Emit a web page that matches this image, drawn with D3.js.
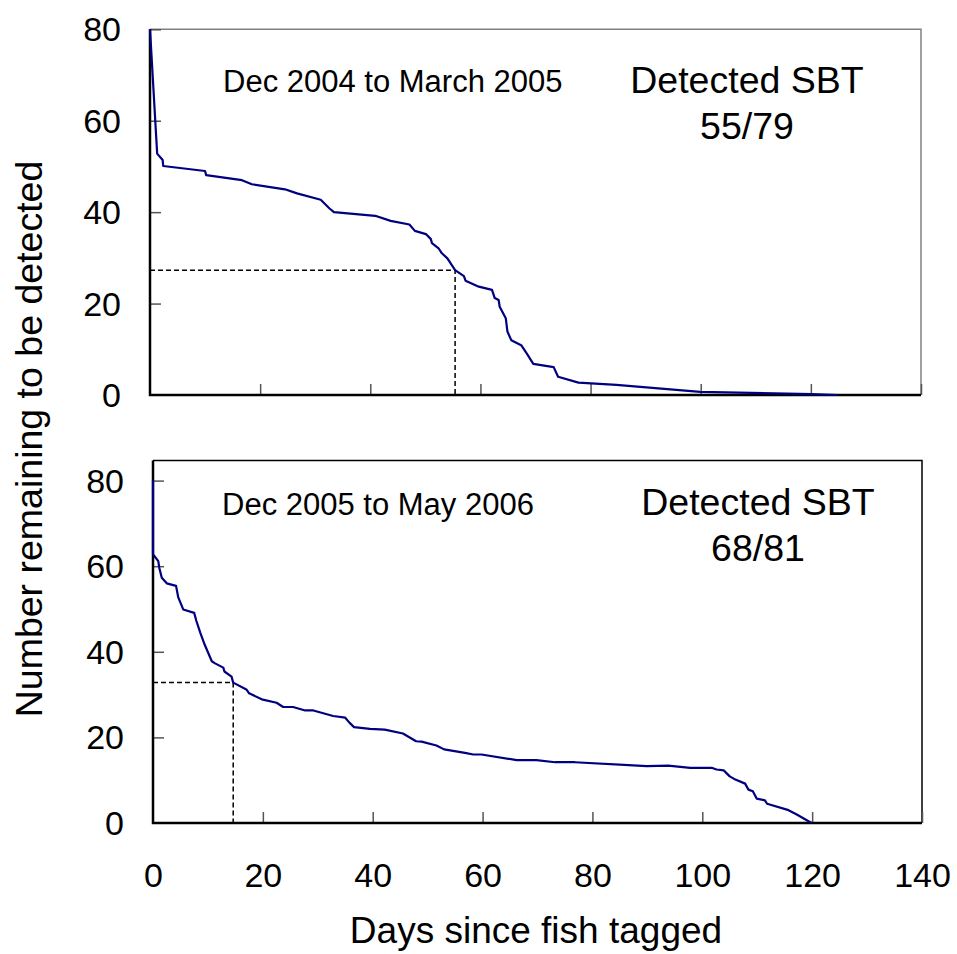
<!DOCTYPE html>
<html>
<head>
<meta charset="utf-8">
<script src="https://cdn.jsdelivr.net/npm/d3@7"></script>
<style>
  body { margin: 0; background: #fff; }
  text { font-family: "Liberation Sans", Arial, sans-serif; fill: #000; }
  .tick line { stroke: #555; stroke-width: 1.5; }
</style>
</head>
<body>
<div id="chart"></div>
<script>
var W = 957, H = 954;

// Dec 2004 to March 2005
var days2005 = [0, 1.3, 2.3, 2.4, 10, 10.2, 16.7, 18.5, 24.5, 26.7,
    31.0, 32.6, 33.4, 40.9, 43.7, 47.1, 48.1, 50.1, 51.0, 51.2,
    52.4, 53.0, 54.0, 55.4, 57.0, 57.3, 59.7, 62.1, 62.6, 63.3,
    63.5, 64.6, 64.9, 65.6, 67.4, 68.4, 69.6, 73.3, 74.1, 77.8,
    84.7, 99.9, 120.1, 124.8];
var left2005 = [80, 52.8, 51.4, 50.1, 49.0, 48.1, 47.0, 46.1, 45.0, 44.1,
    42.7, 40.8, 40.0, 39.2, 38.1, 37.3, 35.9, 35.2, 34.1, 33.2,
    32.1, 31.0, 29.9, 27.3, 26.0, 25.0, 23.7, 23.0, 21.2, 20.8,
    19.3, 16.8, 13.9, 12.0, 10.9, 9.1, 6.8, 6.1, 4.0, 2.7,
    2.2, 0.7, 0.2, 0];

// Dec 2005 to May 2006
var days2006 = [0, 0, 0.96, 1.15, 1.6, 2.5, 4.2, 4.6, 5.5, 7.5,
    7.9, 8.6, 9.4, 10.7, 11.3, 12.8, 13.0, 14.3, 14.6, 17.0,
    17.5, 19.8, 22.5, 23.7, 25.5, 27.7, 29.2, 32.8, 35.0, 35.8,
    36.6, 39.5, 42.2, 45.5, 47.9, 48.9, 51.6, 53.0, 56.8, 58.3,
    59.8, 66.2, 69.8, 73.2, 76.8, 89.9, 93.8, 97.8, 101.7, 102.6,
    103.9, 105.0, 105.8, 107.8, 108.4, 109.2, 109.9, 111.4, 111.8, 115.7,
    117.2, 119.9];
var left2006 = [80, 62.8, 61.2, 59.6, 57.3, 56.0, 55.4, 52.7, 49.9, 49.1,
    47.2, 44.5, 41.7, 37.8, 37.3, 36.3, 35.4, 34.2, 32.8, 31.2,
    30.3, 28.9, 28.1, 27.1, 27.1, 26.3, 26.3, 25.0, 24.6, 23.4,
    22.4, 22.0, 21.8, 20.9, 19.1, 19.0, 18.1, 17.2, 16.4, 16.0,
    16.0, 14.7, 14.7, 14.2, 14.2, 13.3, 13.4, 12.9, 12.9, 12.5,
    12.3, 10.9, 10.3, 9.2, 7.8, 7.4, 5.7, 5.3, 4.5, 3.0,
    2.0, 0];

// half-detected guide lines [day, count]
var half2005 = [55.4, 27.3];
var half2006 = [14.6, 32.8];

var xTicks = [0, 20, 40, 60, 80, 100, 120, 140];
var yTicks = [0, 20, 40, 60, 80];

var panels = [
  { days: days2005, left: left2005, half: half2005,
    period: "Dec 2004 to March 2005", detected: "55/79",
    x: [150, 921], y: [395, 29.3], ymax: 80, top: 29.3, boxStroke: "#808080", labels: false,
    periodXY: [223, 92], detXY: [747, 93] },
  { days: days2006, left: left2006, half: half2006,
    period: "Dec 2005 to May 2006", detected: "68/81",
    x: [153, 922], y: [823, 480.6], ymax: 80, top: 460.5, boxStroke: "#000", labels: true,
    periodXY: [222, 515], detXY: [758, 515] }
];

var svg = d3.select("#chart").append("svg")
    .attr("width", W)
    .attr("height", H);

panels.forEach(function(p) {
  var x = d3.scaleLinear().domain([0, 140]).range(p.x),
      y = d3.scaleLinear().domain([0, p.ymax]).range(p.y);

  var g = svg.append("g");

  // top + right frame
  g.append("path")
      .attr("d", "M" + x(0) + "," + p.top + "H" + x(140) + "V" + y(0))
      .attr("fill", "none")
      .attr("stroke", p.boxStroke)
      .attr("stroke-width", 1.5);

  var yAxis = g.append("g")
      .attr("transform", "translate(" + x(0) + ",0)")
      .call(d3.axisLeft(y).tickValues(yTicks).tickSize(-11).tickPadding(29).tickSizeOuter(0));
  yAxis.select(".domain").remove();
  yAxis.selectAll("text").style("font-size", "34px").attr("dy", "0.34em");
  yAxis.selectAll(".tick").filter(function(d) { return d === 0; }).select("line").remove();

  var xAxis = g.append("g")
      .attr("transform", "translate(0," + y(0) + ")")
      .call(d3.axisBottom(x).tickValues(xTicks).tickSize(-11).tickPadding(40).tickSizeOuter(0));
  xAxis.select(".domain").remove();
  xAxis.selectAll(".tick").filter(function(d) { return d === 0; }).select("line").remove();
  if (p.labels) {
    xAxis.selectAll("text").style("font-size", "34px").attr("dy", "0.71em").attr("y", 40);
  } else {
    xAxis.selectAll("text").remove();
  }

  // left + bottom axis lines
  g.append("path")
      .attr("d", "M" + x(0) + "," + p.top + "V" + y(0) + "H" + x(140))
      .attr("fill", "none")
      .attr("stroke", "#000")
      .attr("stroke-width", 2.5);

  // dashed guide
  g.append("path")
      .attr("d", "M" + x(0) + "," + y(p.half[1]) + "H" + x(p.half[0]) + "V" + y(0))
      .attr("fill", "none")
      .attr("stroke", "#000")
      .attr("stroke-width", 1.5)
      .attr("stroke-dasharray", "5,3");

  var line = d3.line()
      .x(function(d, i) { return x(p.days[i]); })
      .y(function(d) { return y(d); });

  g.append("path")
      .datum(p.left)
      .attr("d", line)
      .attr("fill", "none")
      .attr("stroke", "#000080")
      .attr("stroke-width", 2.2)
      .attr("stroke-linejoin", "round");

  g.append("text")
      .attr("x", p.periodXY[0])
      .attr("y", p.periodXY[1])
      .style("font-size", "31px")
      .text(p.period);

  var det = g.append("text")
      .attr("text-anchor", "middle")
      .style("font-size", "37.5px");
  det.append("tspan").attr("x", p.detXY[0]).attr("y", p.detXY[1]).text("Detected SBT");
  det.append("tspan").attr("x", p.detXY[0]).attr("y", p.detXY[1] + 46).text(p.detected);
});

svg.append("text")
    .attr("text-anchor", "middle")
    .attr("transform", "translate(42,439) rotate(-90)")
    .style("font-size", "37.5px")
    .text("Number remaining to be detected");

svg.append("text")
    .attr("text-anchor", "middle")
    .attr("x", 536)
    .attr("y", 943)
    .style("font-size", "37px")
    .text("Days since fish tagged");
</script>
</body>
</html>
